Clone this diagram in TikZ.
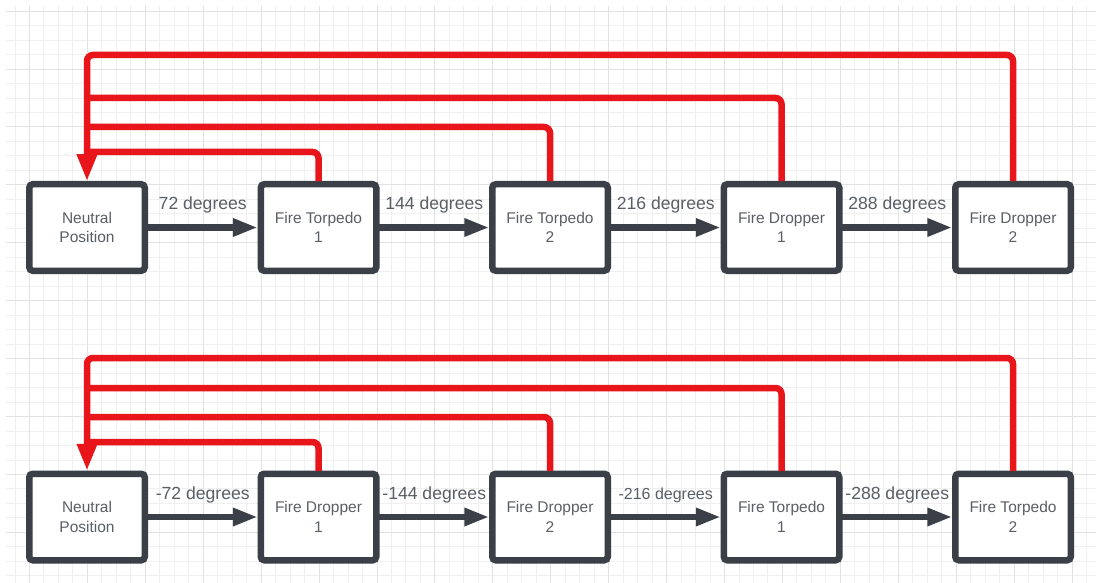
\documentclass[tikz,border=0pt]{standalone}
\usepackage{fontspec}
\setmainfont{Liberation Sans}
\usetikzlibrary{arrows.meta,positioning}
\definecolor{Slate}{HTML}{3A3F48}
\definecolor{Label}{HTML}{5A5E65}
\definecolor{LoopRed}{HTML}{E8151B}
\definecolor{GridMinor}{HTML}{F0F0F0}
\definecolor{GridMajor}{HTML}{E2E2E2}

\begin{document}
\begin{tikzpicture}[
  x=1pt,y=-1pt,
  node distance=116pt,
  state/.style={rounded corners=3.5pt,draw=Slate,fill=white,line width=6.5pt,outer sep=0pt,minimum width=115.5pt,minimum height=86.5pt,align=center,text=Label,font=\fontsize{15.5}{19.3}\selectfont},
  move/.style={-{Triangle[length=25pt,width=17pt]},line width=6.5pt,draw=Slate,shorten >=3pt},
  deg/.style={midway,above=11pt,inner sep=0pt,text=Label,font=\fontsize{17.6}{20}\selectfont},
  back/.style={line width=6.5pt,draw=LoopRed,rounded corners=6pt,shorten <=3pt},
  home/.style={-{Triangle[length=27pt,width=19pt]},shorten >=3pt},
  gridminor/.style={draw=GridMinor,line width=0.9pt},
  gridmajor/.style={draw=GridMajor,line width=0.9pt}
]
\useasboundingbox (0,0) rectangle (1096,583);
\fill[white] (0,0) rectangle (1096,583);
% background grid
\foreach \k in {1,...,75} \draw[gridminor] (0.5+14.48*\k,6) -- (0.5+14.48*\k,583);
\foreach \k in {0,...,39} \draw[gridminor] (6,11.1+14.48*\k) -- (1096,11.1+14.48*\k);
\foreach \k in {2,6,...,74} \draw[gridmajor] (0.5+14.48*\k,6) -- (0.5+14.48*\k,583);
\foreach \k in {0,4,...,36} \draw[gridmajor] (6,11.1+14.48*\k) -- (1096,11.1+14.48*\k);

% positive turn
\node[state] (np) at (87,227.5) {Neutral\\Position};
\node[state,right=of np] (ft1) {Fire Torpedo\\1};
\node[state,right=of ft1] (ft2) {Fire Torpedo\\2};
\node[state,right=of ft2] (fd1) {Fire Dropper\\1};
\node[state,right=of fd1] (fd2) {Fire Dropper\\2};
\draw[move] (np) -- node[deg] {72 degrees} (ft1);
\draw[move] (ft1) -- node[deg] {144 degrees} (ft2);
\draw[move] (ft2) -- node[deg] {216 degrees} (fd1);
\draw[move] (fd1) -- node[deg] {288 degrees} (fd2);
\draw[back] (ft1.north) |- (np.north |- 0,152);
\draw[back] (ft2.north) |- (np.north |- 0,127);
\draw[back] (fd1.north) |- (np.north |- 0,98);
\draw[back,home] (fd2.north) |- (np.north |- 0,55) -- (np.north);

% negative turn
\node[state] (npr) at (87,517) {Neutral\\Position};
\node[state,right=of npr] (rd1) {Fire Dropper\\1};
\node[state,right=of rd1] (rd2) {Fire Dropper\\2};
\node[state,right=of rd2] (rt1) {Fire Torpedo\\1};
\node[state,right=of rt1] (rt2) {Fire Torpedo\\2};
\draw[move] (npr) -- node[deg] {-72 degrees} (rd1);
\draw[move] (rd1) -- node[deg] {-144 degrees} (rd2);
\draw[move] (rd2) -- node[deg,font=\fontsize{16}{18}\selectfont] {-216 degrees} (rt1);
\draw[move] (rt1) -- node[deg] {-288 degrees} (rt2);
\draw[back] (rd1.north) |- (npr.north |- 0,442);
\draw[back] (rd2.north) |- (npr.north |- 0,417);
\draw[back] (rt1.north) |- (npr.north |- 0,388);
\draw[back,home] (rt2.north) |- (npr.north |- 0,358) -- (npr.north);
\end{tikzpicture}
\end{document}
